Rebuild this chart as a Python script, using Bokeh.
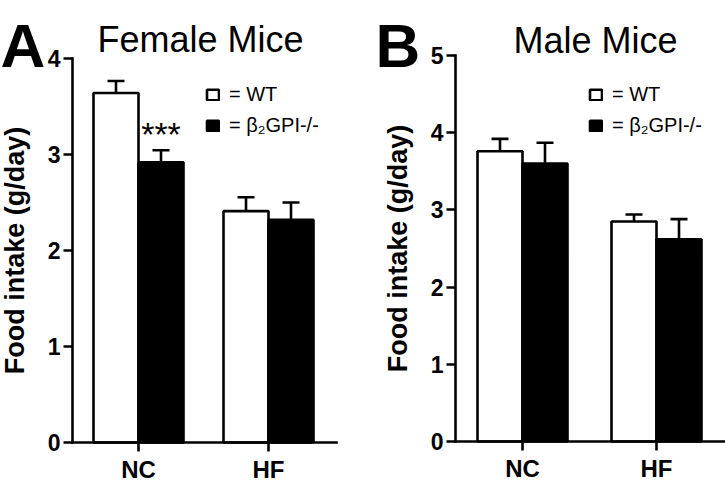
from bokeh.plotting import figure
from bokeh.models import (Range1d, Legend, LegendItem, ColumnDataSource, FixedTicker)
from bokeh.layouts import row
from bokeh.embed import file_html
from bokeh.resources import INLINE
from bokeh.core.properties import value

# ---------------- data ----------------
categories = ["NC", "HF"]
series_labels = ["= WT", "= β₂GPI-/-"]

female_wt = [3.64, 2.41]
female_wt_sem = [0.125, 0.145]
female_ko = [2.92, 2.32]
female_ko_sem = [0.125, 0.18]
female_sig = ["***", ""]          # significance marks above the knockout bars

male_wt = [3.76, 2.85]
male_wt_sem = [0.16, 0.09]
male_ko = [3.60, 2.62]
male_ko_sem = [0.27, 0.26]
male_sig = ["", ""]

female_ticks = [0, 1, 2, 3, 4]
male_ticks = [0, 1, 2, 3, 4, 5]

FONT = "Liberation Sans"
LW = 2.6
H = 484


def make_panel(letter, title, wt, wt_sem, ko, ko_sem, sig, ticks, W,
               cx0, sx, y0, sy, axis_px, axis_end_px, title_cx, title_base,
               letter_px, legend_x):
    """cx0/y0: canvas pixel of first category centre / value 0; sx/sy: px per unit."""
    def dx(px):
        return (px - cx0) / sx

    def dy(py):
        return (y0 - py) / sy

    p = figure(width=W, height=H, output_backend="svg", toolbar_location=None,
               title_location=None,
               x_range=Range1d(dx(0), dx(W)), y_range=Range1d(dy(H), dy(0)),
               min_border_left=0, min_border_right=0,
               min_border_top=0, min_border_bottom=0)
    p.outline_line_color = None
    p.xgrid.grid_line_color = None
    p.ygrid.grid_line_color = None
    p.background_fill_color = "white"
    p.border_fill_color = "white"

    pos = list(range(len(categories)))
    bw = 45.0 / sx
    off = bw / 2
    cap = 8.5 / sx

    src = ColumnDataSource(dict(
        x_wt=[i - off for i in pos], x_ko=[i + off for i in pos],
        wt=wt, ko=ko,
        wt_hi=[m + s for m, s in zip(wt, wt_sem)],
        ko_hi=[m + s for m, s in zip(ko, ko_sem)],
        sig=sig,
        sig_y=[m + s + 35.0 / sy for m, s in zip(ko, ko_sem)],
    ))

    # error bars (upper half only, with caps)
    for xc, mean, hi in (("x_wt", "wt", "wt_hi"), ("x_ko", "ko", "ko_hi")):
        p.segment(x0=xc, x1=xc, y0=mean, y1=hi, source=src,
                  line_color="black", line_width=LW)
        cap_src = ColumnDataSource(dict(x0=[v - cap for v in src.data[xc]],
                                        x1=[v + cap for v in src.data[xc]],
                                        y=src.data[hi]))
        p.segment(x0="x0", x1="x1", y0="y", y1="y", source=cap_src,
                  line_color="black", line_width=LW)

    r_wt = p.vbar(x="x_wt", top="wt", width=bw, source=src,
                  fill_color="white", line_color="black", line_width=LW)
    r_ko = p.vbar(x="x_ko", top="ko", width=bw, source=src,
                  fill_color="black", line_color="black", line_width=LW)

    p.text(x="x_ko", y="sig_y", text="sig", source=src,
           text_font=value(FONT), text_font_size="34px", text_align="center",
           text_baseline="top", text_color="black")

    # title and panel letter
    p.text(x=[dx(title_cx)], y=[dy(title_base)], text=[title],
           text_font=value(FONT), text_font_size="36px", text_align="center",
           text_baseline="alphabetic", text_color="black")
    p.text(x=[dx(letter_px)], y=[dy(45)], text=[letter],
           text_font=value(FONT), text_font_style="bold", text_font_size="62px",
           text_align="left", text_baseline="alphabetic", text_color="black")

    # axes
    xa, ya = p.xaxis[0], p.yaxis[0]
    for ax in (xa, ya):
        ax.axis_line_width = LW
        ax.major_tick_line_width = LW
        ax.major_tick_out = 9
        ax.major_tick_in = 0
        ax.minor_tick_line_color = None
        ax.major_label_text_font = FONT
        ax.major_label_text_font_style = "bold"
        ax.major_label_text_color = "black"
        ax.axis_line_color = "black"
        ax.major_tick_line_color = "black"
        ax.axis_line_cap = "square"

    ya.fixed_location = dx(axis_px)
    ya.bounds = (ticks[0], ticks[-1])
    ya.ticker = FixedTicker(ticks=ticks)
    ya.major_label_text_font_size = "23px"
    ya.major_label_standoff = 3
    ya.axis_label = "Food intake (g/day)"
    ya.axis_label_text_font = FONT
    ya.axis_label_text_font_style = "bold"
    ya.axis_label_text_font_size = "27px"
    ya.axis_label_text_color = "black"
    ya.axis_label_standoff = 15

    xa.fixed_location = 0
    xa.bounds = (dx(axis_px), dx(axis_end_px))
    xa.ticker = FixedTicker(ticks=pos)
    xa.major_label_overrides = {i: c for i, c in enumerate(categories)}
    xa.major_label_text_font_size = "24px"
    xa.major_label_standoff = 4

    legend = Legend(items=[LegendItem(label=series_labels[0], renderers=[r_wt]),
                           LegendItem(label=series_labels[1], renderers=[r_ko])],
                    location=(legend_x, H - 137), orientation="vertical",
                    glyph_width=15, glyph_height=13, label_standoff=9,
                    label_text_font=FONT, label_text_font_size="20px",
                    label_text_color="black",
                    label_height=13, spacing=8, padding=0, margin=0,
                    border_line_color=None, background_fill_alpha=0)
    p.add_layout(legend)
    return p


# panel A occupies x 0..370 of the picture
pa = make_panel("A", "Female Mice", female_wt, female_wt_sem, female_ko, female_ko_sem,
                female_sig, female_ticks, W=370,
                cx0=138, sx=130, y0=442, sy=96,
                axis_px=72, axis_end_px=336, title_cx=200, title_base=39,
                letter_px=0, legend_x=205)
# panel B occupies x 370..725 of the picture
pb = make_panel("B", "Male Mice", male_wt, male_wt_sem, male_ko, male_ko_sem,
                male_sig, male_ticks, W=355,
                cx0=152, sx=134, y0=441, sy=77.2,
                axis_px=85, axis_end_px=355, title_cx=225, title_base=40,
                letter_px=5, legend_x=218)

layout = row(pa, pb)
open("out.html", "w").write(file_html(layout, INLINE))
